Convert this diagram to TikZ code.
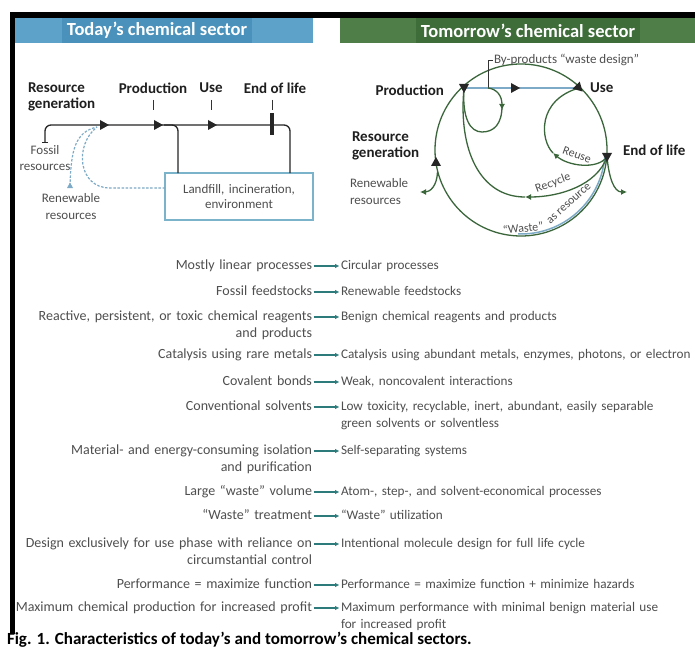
\documentclass[tikz,border=0pt]{standalone}
\usepackage{fontspec}
\setmainfont{Carlito}
\usepackage{tikz}
\usetikzlibrary{arrows.meta, calc, positioning}

\definecolor{todayblue}{HTML}{5DA3C9}
\definecolor{todaydark}{HTML}{4A92BC}
\definecolor{tomgreen}{HTML}{4F7E49}
\definecolor{tomdark}{HTML}{3F6D3A}
\definecolor{cyclegreen}{HTML}{3B663B}
\definecolor{paleblue}{HTML}{7DAAC6}
\definecolor{boxblue}{HTML}{7AB3CA}
\definecolor{textgray}{HTML}{4F4F4F}
\definecolor{rowteal}{HTML}{2E7B7B}

% small filled triangle sitting on a flow line
\newcommand{\flowhead}[3][black!85]{\fill[#1, shift={(#2)}, rotate=#3] (5,0) -- (-4,5) -- (-4,-5) -- cycle;}

\begin{document}
\begin{tikzpicture}[x=1pt,y=-1pt,font=\fontsize{13}{16.5}\selectfont]
\tikzset{every node/.style={inner sep=0pt, outer sep=0pt}}

\tikzstyle{header}=[text=white, font=\bfseries\fontsize{18.5}{20}\selectfont, inner xsep=5pt, minimum height=25pt]
\tikzstyle{stage}=[text=black!88, font=\bfseries\fontsize{15}{16}\selectfont]
\tikzstyle{gray text}=[text=textgray]
\tikzstyle{small gray}=[text=textgray, font=\fontsize{12}{13}\selectfont]
\tikzstyle{flow}=[black!85, line width=1.3pt]
\tikzstyle{tick}=[black!80, line width=0.9pt]
\tikzstyle{dash flow}=[paleblue, line width=1.2pt, dash pattern=on 2.5pt off 1.6pt]
\tikzstyle{cycle line}=[cyclegreen, line width=1.3pt]
\tikzstyle{blue line}=[paleblue, line width=1.5pt]
\tikzstyle{end tip}=[-{Latex[length=6pt,width=6pt]}]
\tikzstyle{left row}=[gray text, anchor=base east, align=right, text width=330pt, font=\fontsize{14}{16.5}\selectfont]
\tikzstyle{right row}=[gray text, anchor=base west, align=left, text width=350pt, font=\fontsize{13.2}{16.5}\selectfont]
\tikzstyle{row arrow}=[rowteal, line width=1.2pt, -{Latex[length=4.5pt,width=4.5pt]}]

\fill[white] (0,0) rectangle (695,647);
\useasboundingbox (0,0) rectangle (695,647);

% frame and headers
\fill[black] (10,12) rectangle (695,18);
\fill[black] (10,12) rectangle (15,634);
\fill[todayblue] (15,18) rectangle (313,43);
\fill[tomgreen] (340,18) rectangle (695,43);
\node[header, fill=todaydark] (today title) at (157,30.5) {Today’s chemical sector};
\node[header, fill=tomdark] (tomorrow title) at (528,30.5) {Tomorrow’s chemical sector};

% today's sector
\node[stage, anchor=base west, text width=80pt, align=left] (today resgen) at (28,92.5) {Resource\\generation};
\node[stage] (today prod) at (153,88) {Production};
\node[stage] (today use) at (211,88) {Use};
\node[stage] (today eol) at (275,88) {End of life};

\draw[tick] (153,100) -- (153,110);
\draw[tick] (211,100) -- (211,110);
\draw[tick] (272,100) -- (272,110);

\node[draw=boxblue, line width=1.3pt, gray text, minimum width=148pt, minimum height=47pt, text width=140pt, align=center, font=\fontsize{13}{15}\selectfont] (landfill) at (239,196.5) {Landfill, incineration,\\environment};

\coordinate (fossil end) at (45,143);
\coordinate (eol corner) at (290,125);
\coordinate (eol drop) at (290,173);
\coordinate (prod branch) at (164,125);
\coordinate (prod drop) at (178,173);
\coordinate (renew tip) at (70,186);
\coordinate (today in) at (97,127);

\draw[flow, rounded corners=6pt, {Bar[width=6pt]}-] (fossil end) |- (eol corner) -- (eol drop);
\draw[flow, rounded corners=6pt] (prod branch) -| (prod drop);
\flowhead{104,125}{0}
\flowhead{158,125}{0}
\flowhead{212,125}{0}
\node[fill=black!85, minimum width=4pt, minimum height=22pt] (today stop) at (272,124) {};

\draw[dash flow] ([yshift=8.5pt]landfill.west) -- (110,188) .. controls (78,188) and (74,145) .. (today in);
\draw[dash flow] (renew tip) .. controls (71,150) and (75,132) .. (today in);
\fill[paleblue, shift={(renew tip)}] (0,-3.5) -- (3,2) -- (-3,2) -- cycle;

\node[gray text, anchor=base, text width=60pt, align=center] (fossil) at (45,154.5) {Fossil\\resources};
\node[gray text, anchor=base, text width=70pt, align=center] (today renew) at (71,202.5) {Renewable\\resources};

% tomorrow's sector
\coordinate (tm centre) at (521,150);
\coordinate (tm prod) at (464,88);
\coordinate (tm use) at (579,88);
\coordinate (tm eol) at (607,157);
\coordinate (tm resgen) at (436,162);
\coordinate (tm waste) at (604.7,157.3);
\coordinate (tm byprod) at (488,88);
\coordinate (tm renew) at (437.5,172);

\draw[cycle line] (tm centre) circle[radius=86pt];
\draw[blue line] (tm prod) -- (tm use);
\draw[blue line] (tm waste) arc[start angle=-5, end angle=-92, radius=84pt];

\draw[tick] (tm byprod) -- (488,60) -- (493,60);
\node[gray text, anchor=west] (byprod label) at (494,60) {By-products “waste design”};

% by-product loop
\draw[cycle line, end tip] (tm byprod) .. controls (497,89) and (502,96) .. (502,110);
\draw[cycle line] (502,106) .. controls (502,124) and (494,132) .. (482,132) .. controls (470,132) and (462,118) .. (tm prod);

% reuse
\draw[cycle line, end tip] (tm eol) .. controls (597,170) and (568,166) .. (553,153);
\draw[cycle line] (553,153) .. controls (540,140) and (537,100) .. (tm use);
% recycle
\draw[cycle line, end tip] (tm eol) .. controls (597,185) and (560,197) .. (525,197);
\draw[cycle line] (525,197) .. controls (480,197) and (458,150) .. (tm prod);
% in and out
\draw[cycle line, end tip] (tm renew) .. controls (437,186) and (430,192) .. (420,192);
\draw[cycle line, end tip] (tm eol) .. controls (609,178) and (614,192) .. (627,192);

\flowhead{tm prod}{-90}
\flowhead{tm use}{-45}
\flowhead{tm eol}{-90}
\flowhead{tm resgen}{90}
\flowhead{515,88}{0}

\node[small gray, rotate=-20] (reuse) at (577,155) {Reuse};
\node[small gray, rotate=20] (recycle) at (553,183) {Recycle};
\node[small gray, rotate=6] (waste) at (523,228) {“Waste”};
\node[small gray, rotate=42] (as resource) at (569,203.5) {as resource};

\node[stage, anchor=east] (tm prod label) at (444,90) {Production};
\node[stage, anchor=west] (tm use label) at (590,88) {Use};
\node[stage, anchor=west] (tm eol label) at (623,150) {End of life};
\node[stage, anchor=base west, text width=80pt, align=left] (tm resgen label) at (352,141.5) {Resource\\generation};
\node[gray text, anchor=base west, text width=70pt, align=left] (tm renew label) at (350,187.5) {Renewable\\resources};

% characteristics table
\foreach \y/\lt/\rt [count=\i] in {
  269.5/{Mostly linear processes}/{Circular processes},
  295.5/{Fossil feedstocks}/{Renewable feedstocks},
  320.5/{Reactive, persistent, or toxic chemical reagents\\and products}/{Benign chemical reagents and products},
  358.5/{Catalysis using rare metals}/{Catalysis using abundant metals, enzymes, photons, or electron},
  385.5/{Covalent bonds}/{Weak, noncovalent interactions},
  410.5/{Conventional solvents}/{Low toxicity, recyclable, inert, abundant, easily separable\\green solvents or solventless},
  454.5/{Material- and energy-consuming isolation\\and purification}/{Self-separating systems},
  495.5/{Large “waste” volume}/{Atom-, step-, and solvent-economical processes},
  519.5/{“Waste” treatment}/{“Waste” utilization},
  547.5/{Design exclusively for use phase with reliance on\\circumstantial control}/{Intentional molecule design for full life cycle},
  588.5/{Performance = maximize function}/{Performance = maximize function + minimize hazards},
  611.5/{Maximum chemical production for increased profit}/{Maximum performance with minimal benign material use\\for increased profit}} {
  \node[left row] (old \i) at (312,\y) {\lt};
  \node[right row] (new \i) at (341,\y) {\rt};
  \draw[row arrow] ([xshift=1.5pt,yshift=3.5pt]old \i.base east) -- ([xshift=-1.5pt,yshift=3.5pt]new \i.base west);
}

\node[anchor=base west, font=\bfseries\fontsize{17}{18}\selectfont] (caption) at (7,644) {Fig. 1. Characteristics of today’s and tomorrow’s chemical sectors.};

\end{tikzpicture}
\end{document}
